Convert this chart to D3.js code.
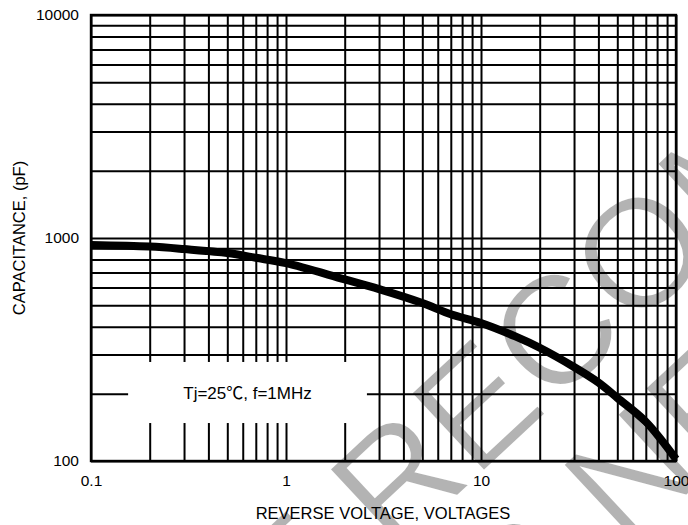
<!DOCTYPE html>
<html>
<head>
<meta charset="utf-8">
<script src="https://cdn.jsdelivr.net/npm/d3@7"></script>
<style>
  html, body { margin: 0; padding: 0; background: #fff; overflow: hidden; }
  text { font-family: "Liberation Sans", Arial, sans-serif; }
</style>
</head>
<body>
<script>
// ---- data -------------------------------------------------------
const voltage = [0.1, 0.2, 0.3, 0.5, 0.7, 1, 2, 3, 5, 7, 10, 15, 20, 30, 40, 50, 70, 100]
const capacitance = [930, 915, 892, 856, 815, 771, 652, 590, 511, 455, 416, 362, 322, 264, 225, 192, 150, 102]

const xTicks = [0.1, 0.2, 0.3, 0.4, 0.5, 0.6, 0.7, 0.8, 0.9,
  1, 2, 3, 4, 5, 6, 7, 8, 9, 10, 20, 30, 40, 50, 60, 70, 80, 90, 100]
const yTicks = [100, 200, 300, 400, 500, 600, 700, 800, 900,
  1000, 2000, 3000, 4000, 5000, 6000, 7000, 8000, 9000, 10000]
const xLabels = [0.1, 1, 10, 100]
const yLabels = [100, 1000, 10000]

const noteText = ['Tj=25', '℃', ', f=1MHz']
const xTitle = 'REVERSE VOLTAGE, VOLTAGES'
const yTitle = 'CAPACITANCE, (pF)'
const watermark = [['NOT', 'RECOMMENDED'], ['FOR', 'NEW DESIGN']]

// ---- layout -----------------------------------------------------
const WIDTH = 688
const HEIGHT = 525
const LEFT = 91
const TOP = 15
const RIGHT = 676
const BOTTOM = 461
const TICK_FONT = '15.5px'
const TITLE_FONT = '16.5px'

const svg = d3.select('body').append('svg')
  .attr('width', WIDTH)
  .attr('height', HEIGHT)

svg.append('rect')
  .attr('width', '100%')
  .attr('height', '100%')
  .attr('fill', 'white')

const x = d3.scaleLog().domain([0.1, 100]).range([LEFT, RIGHT])
const y = d3.scaleLog().domain([100, 10000]).range([BOTTOM, TOP])

// watermark, sits under the grid
const wm = svg.append('g')
  .attr('transform', 'translate(393,556) rotate(-43)')
  .attr('fill', '#b3b3b3')
  .attr('stroke', 'white')
  .attr('stroke-width', 2)
  .style('font-size', '155px')
const wmRows = [{ x: 0, y: 0 }, { x: 174, y: 156 }]
watermark.forEach((row, i) => {
  wm.append('text').attr('x', wmRows[i].x - 43).attr('y', wmRows[i].y)
    .attr('text-anchor', 'end').text(row[0])
  wm.append('text').attr('x', wmRows[i].x).attr('y', wmRows[i].y).text(row[1])
})

// grid through the axes
const gx = svg.append('g')
  .attr('transform', `translate(0,${BOTTOM})`)
  .call(d3.axisBottom(x)
    .tickValues(xTicks)
    .tickSize(-(BOTTOM - TOP))
    .tickPadding(14)
    .tickFormat(d => xLabels.includes(d) ? String(d) : ''))
gx.select('.domain').remove()
gx.selectAll('line').attr('stroke', '#000').attr('stroke-width', 2)
gx.selectAll('text').attr('fill', '#000').style('font-size', TICK_FONT)

const gy = svg.append('g')
  .attr('transform', `translate(${LEFT},0)`)
  .call(d3.axisLeft(y)
    .tickValues(yTicks)
    .tickSize(-(RIGHT - LEFT))
    .tickPadding(12)
    .tickFormat(d => yLabels.includes(d) ? String(d) : ''))
gy.select('.domain').remove()
gy.selectAll('line').attr('stroke', '#000').attr('stroke-width', 2)
gy.selectAll('text').attr('fill', '#000').style('font-size', TICK_FONT)

svg.append('rect')
  .attr('x', LEFT)
  .attr('y', TOP)
  .attr('width', RIGHT - LEFT)
  .attr('height', BOTTOM - TOP)
  .attr('fill', 'none')
  .attr('stroke', '#000')
  .attr('stroke-width', 2.4)

// note box, blanks the grid under it
const box = { x0: 0.155, x1: 2.6, y0: 278, y1: 148 }
svg.append('rect')
  .attr('x', x(box.x0))
  .attr('y', y(box.y0))
  .attr('width', x(box.x1) - x(box.x0))
  .attr('height', y(box.y1) - y(box.y0))
  .attr('fill', 'white')
const note = svg.append('text')
  .attr('x', (x(box.x0) + x(box.x1)) / 2)
  .attr('y', (y(box.y0) + y(box.y1)) / 2)
  .attr('dy', '0.36em')
  .attr('text-anchor', 'middle')
  .style('font-size', '17px')
note.append('tspan').text(noteText[0])
note.append('tspan').style('font-family', '"Noto Sans CJK SC"').text(noteText[1])
note.append('tspan').text(noteText[2])

// curve
const line = d3.line()
  .x((d, i) => x(voltage[i]))
  .y(d => y(d))
  .curve(d3.curveCatmullRom.alpha(0.5))

svg.append('path')
  .datum(capacitance)
  .attr('d', line)
  .attr('fill', 'none')
  .attr('stroke', '#000')
  .attr('stroke-width', 8)

// titles
svg.append('text')
  .attr('x', 383)
  .attr('y', 513)
  .attr('dy', '0.36em')
  .attr('text-anchor', 'middle')
  .style('font-size', TITLE_FONT)
  .text(xTitle)

svg.append('text')
  .attr('transform', 'translate(19,238) rotate(-90)')
  .attr('dy', '0.36em')
  .attr('text-anchor', 'middle')
  .style('font-size', TITLE_FONT)
  .text(yTitle)
</script>
</body>
</html>
